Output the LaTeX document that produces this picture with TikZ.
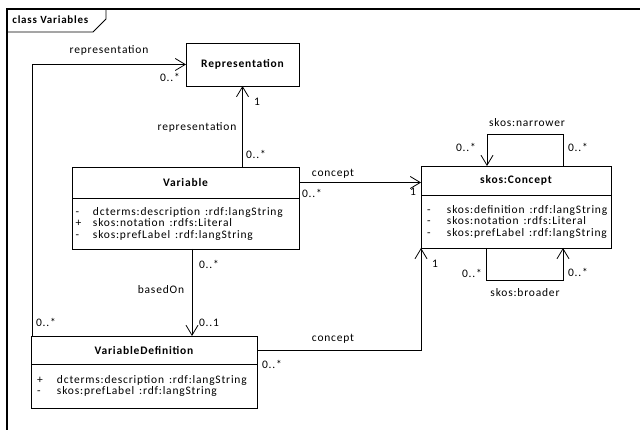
\documentclass[tikz,border=0pt]{standalone}
\usepackage{fontspec}
\setmainfont{Carlito}[LetterSpace=7]
\usepackage{tikz}
\usetikzlibrary{arrows.meta}

\newcommand{\umlfont}{\fontsize{11.5}{11.5}\selectfont}
\newcommand{\attrrow}[4][20pt]{\mbox{\makebox[#1][l]{#2}#3\hspace{5pt}#4}}

\tikzset{
	classhead/.style={draw, anchor=north west, inner sep=0pt, outer sep=0pt, font=\umlfont\bfseries},
	attrs/.style={draw, anchor=north west, align=left, inner xsep=6pt, inner ysep=0pt, outer sep=0pt, font=\umlfont},
	assoc/.style={-{Straight Barb[length=10pt,width=12pt]}},
	lbl/.style={inner sep=0pt, font=\umlfont}
}

\begin{document}
\begin{tikzpicture}[x=1pt, y=-1pt, line width=0.8pt]
		\useasboundingbox (0,0) rectangle (640,430);
		% frame
		\draw[line width=1.2pt] (7,430) -- (7,9) -- (640,9);
		\draw (7,32) -- (93,32) -- (106,19) -- (106,9);
		\node[anchor=west, inner sep=0pt, font=\fontsize{11}{11}\selectfont\bfseries] (title) at (12,20) {class Variables};

		% classes
		\node[classhead, minimum width=113pt, minimum height=43pt] (rep) at (186,43) {Representation};
		\node[classhead, minimum width=227pt, minimum height=31pt] (var) at (72,167) {Variable};
		\node[attrs, inner xsep=3.5pt, text width=220pt, minimum height=51pt] (varattr) at (var.south west)
			{\attrrow[17.5pt]{-}{dcterms:description}{:rdf:langString}\\
			 \attrrow[17.5pt]{+}{skos:notation}{:rdfs:Literal}\\
			 \attrrow[17.5pt]{-}{skos:prefLabel}{:rdf:langString}};
		\node[classhead, minimum width=190pt, minimum height=29pt] (concept) at (421,166) {skos:Concept};
		\node[attrs, text width=178pt, minimum height=53pt] (conattr) at (concept.south west)
			{\attrrow{-}{skos:definition}{:rdf:langString}\\
			 \attrrow{-}{skos:notation}{:rdfs:Literal}\\
			 \attrrow{-}{skos:prefLabel}{:rdf:langString}};
		\node[classhead, minimum width=226pt, minimum height=28pt] (vardef) at (31,336) {VariableDefinition};
		\node[attrs, text width=214pt, minimum height=44pt] (vardefattr) at (vardef.south west)
			{\attrrow{+}{dcterms:description}{:rdf:langString}\\
			 \attrrow{-}{skos:prefLabel}{:rdf:langString}};

		% associations
		\draw[assoc] (rep.south |- var.north) -- (rep.south);
		\draw[assoc] (var.east) -- (var.east -| concept.west);
		\draw[assoc] ([xshift=6.5pt]varattr.south) -- ([xshift=6.5pt]varattr.south |- vardef.north);
		\draw[assoc] ([xshift=1pt]vardef.north west) |- (rep.west);
		\draw[assoc] (vardef.east) -| (conattr.south west);
		\draw[assoc] ([xshift=47pt]concept.north) -- ++(0,-32) -| ([xshift=-29pt]concept.north);
		\draw[assoc] ([xshift=-30pt]conattr.south) -- ++(0,32) -| ([xshift=47pt]conattr.south);

		% role names and multiplicities
		\node[lbl] (l-reptop) at (109,50) {representation};
		\node[lbl] (m-reptop) at (170,77) {0..*};
		\node[lbl] (l-repvar) at (197,127) {representation};
		\node[lbl] (m-rep1) at (257,102) {1};
		\node[lbl] (m-var0) at (256,154) {0..*};
		\node[lbl] (l-concept) at (333,174) {concept};
		\node[lbl] (m-var0r) at (312,193) {0..*};
		\node[lbl] (m-con1) at (413,192) {1};
		\node[lbl] (l-narrower) at (527,123) {skos:narrower};
		\node[lbl] (m-narl) at (466,147) {0..*};
		\node[lbl] (m-narr) at (578,147) {0..*};
		\node[lbl] (m-brol) at (472,273) {0..*};
		\node[lbl] (m-bror) at (578,272) {0..*};
		\node[lbl] (l-broader) at (525,293) {skos:broader};
		\node[lbl] (m-con1b) at (435,264) {1};
		\node[lbl] (m-based0) at (209,264) {0..*};
		\node[lbl] (l-based) at (161,290) {basedOn};
		\node[lbl] (m-based1) at (209,323) {0..1};
		\node[lbl] (m-defrep) at (46,322) {0..*};
		\node[lbl] (l-defcon) at (333,339) {concept};
		\node[lbl] (m-defcon) at (272,364) {0..*};
	\end{tikzpicture}
\end{document}
